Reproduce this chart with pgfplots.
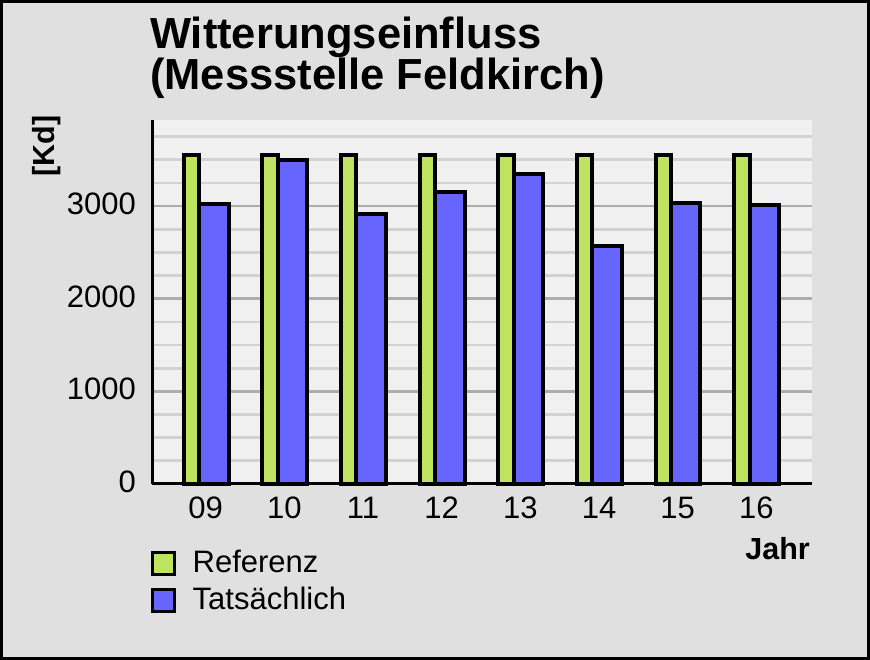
\documentclass[border=0pt]{standalone}
\usepackage{pgfplots}
\pgfplotsset{compat=1.18}
\usepackage{fontspec}
\setmainfont{Liberation Sans}
\definecolor{bgout}{HTML}{E0E0E0}
\definecolor{bgplot}{HTML}{F0F0F0}
\definecolor{gmaj}{HTML}{ADADAD}
\definecolor{gmin}{HTML}{D2D2D2}
\definecolor{refgreen}{HTML}{BDE35F}
\definecolor{actblue}{HTML}{6666FF}
\pgfplotsset{boxlegend/.style={legend image code/.code={\draw[##1, line width=3pt] (0pt,-12.5pt) rectangle (22pt,9.5pt);}}}
\begin{document}
\begin{tikzpicture}[x=1pt,y=1pt]
\useasboundingbox (0,0) rectangle (870,660);
\fill[bgout] (0,0) rectangle (870,660);
\draw[black, line width=3pt] (1.5,1.5) rectangle (868.5,658.5);
\begin{axis}[
  at={(152pt,176pt)}, anchor=south west,
  scale only axis, width=660pt, height=364pt,
  xmin=-0.683, xmax=7.708, ymin=0, ymax=3930,
  axis x line*=bottom, axis y line*=left,
  axis line style={-, line width=3pt, black},
  axis background/.style={fill=bgplot},
  xtick={0,...,7}, xticklabels={09,10,11,12,13,14,15,16},
  ytick={0,1000,2000,3000}, yticklabels={0,1000,2000,3000},
  minor ytick={250,500,750,1250,1500,1750,2250,2500,2750,3250,3500,3750},
  ymajorgrids, yminorgrids,
  major grid style={gmaj, line width=2.7pt},
  minor grid style={gmin, line width=2.7pt},
  major tick length=0pt, minor tick length=0pt,
  ticklabel style={font=\fontsize{31}{31}\selectfont, inner sep=0pt},
  yticklabel style={anchor=base east, xshift=-16pt, yshift=-8.6pt},
  xticklabel style={anchor=base, yshift=-34.5pt},
  xlabel={Jahr},
  xlabel style={at={(axis description cs:0.997,-0.2088)}, anchor=base east, inner sep=0pt, font=\bfseries\fontsize{30.5}{30.5}\selectfont},
  ylabel={{[Kd]}},
  ylabel style={at={(axis description cs:-0.159,0.9286)}, anchor=center, inner sep=0pt, font=\bfseries\fontsize{30.5}{30.5}\selectfont},
  legend style={at={(axis description cs:-0.002,-0.1813)}, anchor=north west, draw=none, fill=none, inner sep=0pt, outer sep=0pt, nodes={inner sep=0pt}, column sep=17pt, row sep=11pt, font=\fontsize{31}{31}\selectfont},
  legend cell align=left,
  clip=false,
]
\addplot[ybar, bar width=0.193, bar shift=-0.183, fill=refgreen, draw=black, line width=4pt, boxlegend]
  coordinates {(0,3550) (1,3550) (2,3550) (3,3550) (4,3550) (5,3550) (6,3550) (7,3550)};
\addplot[ybar, bar width=0.376, bar shift=0.102, fill=actblue, draw=black, line width=4pt, boxlegend]
  coordinates {(0,3020) (1,3500) (2,2915) (3,3155) (4,3345) (5,2570) (6,3035) (7,3010)};
\legend{Referenz, Tatsächlich}
\end{axis}
\node[anchor=base west, inner sep=0pt, font=\bfseries\fontsize{43.5}{43.5}\selectfont] at (150,611.7) {Witterungseinfluss};
\node[anchor=base west, inner sep=0pt, font=\bfseries\fontsize{43.5}{43.5}\selectfont] at (150,570) {(Messstelle Feldkirch)};
\end{tikzpicture}
\end{document}
